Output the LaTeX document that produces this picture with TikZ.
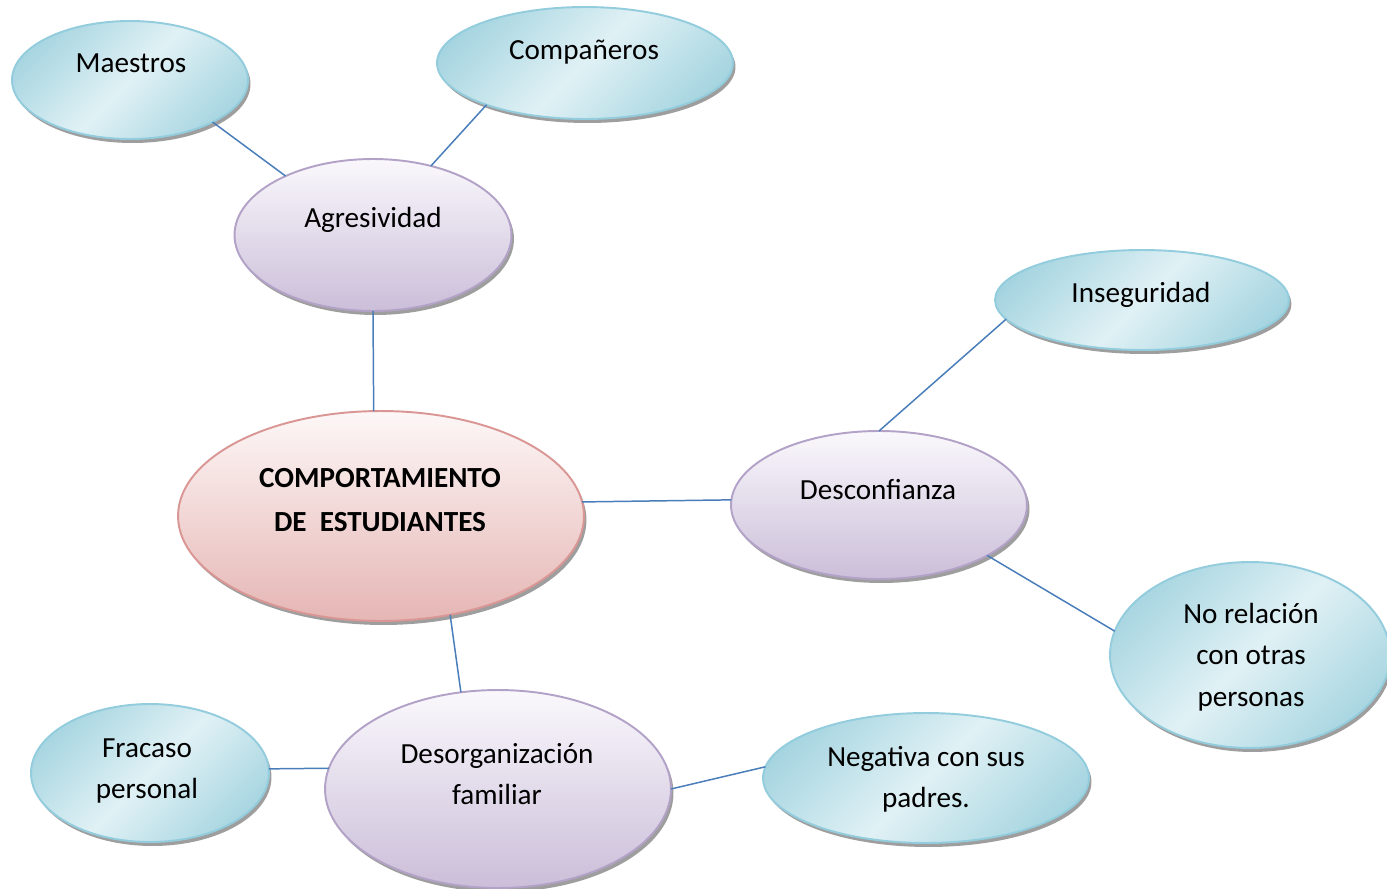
\documentclass[tikz,border=0pt]{standalone}
\usepackage{fontspec}
\setmainfont{Carlito}
\usetikzlibrary{shapes.geometric,shadows}

\definecolor{lineblue}{HTML}{4A7EBB}
\definecolor{aquarim}{HTML}{93CDDD}
\definecolor{aquadark}{HTML}{9ACFDC}
\definecolor{aqualight}{HTML}{E0F1F5}
\definecolor{lilacrim}{HTML}{B3A2C7}
\definecolor{lilactop}{HTML}{FAF8FC}
\definecolor{lilacbot}{HTML}{CBBED9}
\definecolor{roserim}{HTML}{D99694}
\definecolor{rosetop}{HTML}{FDF7F7}
\definecolor{rosebot}{HTML}{E5B6B4}
\pgfdeclareverticalshading{aquaband}{100bp}{color(0bp)=(aquadark); color(18bp)=(aquadark);
  color(50bp)=(aqualight); color(82bp)=(aquadark); color(100bp)=(aquadark)}

\begin{document}
\begin{tikzpicture}
  [x=0.02cm,y=-0.02cm,
   blob/.style={ellipse,inner sep=0pt,outer sep=0pt,line width=1.1pt,
     drop shadow={shadow xshift=0.05cm,shadow yshift=-0.08cm,fill=black!38,opacity=1}},
   aqua/.style={blob,draw=aquarim,shade,shading=aquaband,shading angle=45},
   lilac/.style={blob,draw=lilacrim,top color=lilactop,bottom color=lilacbot},
   rose/.style={blob,draw=roserim,top color=rosetop,bottom color=rosebot},
   txt/.style={align=center,inner sep=0pt,font=\fontsize{16.6}{23.5}\selectfont},
   link/.style={draw=lineblue,line width=0.85pt}]
  \clip (0,0) rectangle (1387,889);

  % ellipses
  \node[aqua,minimum width=4.72cm,minimum height=2.36cm] (maestros) at (130,80) {};
  \node[aqua,minimum width=5.92cm,minimum height=2.24cm] (companeros) at (585,63) {};
  \node[lilac,minimum width=5.54cm,minimum height=3.04cm] (agresividad) at (373,235) {};
  \node[rose,minimum width=8.12cm,minimum height=4.2cm] (comport) at (381,516) {};
  \node[aqua,minimum width=5.88cm,minimum height=2.0cm] (inseguridad) at (1142,300) {};
  \node[lilac,minimum width=5.92cm,minimum height=2.96cm] (desconfianza) at (879,505) {};
  \node[aqua,minimum width=5.6cm,minimum height=3.72cm] (norelacion) at (1250,655) {};
  \node[lilac,minimum width=6.92cm,minimum height=3.96cm] (desorg) at (498,789) {};
  \node[aqua,minimum width=4.76cm,minimum height=2.76cm] (fracaso) at (150,773) {};
  \node[aqua,minimum width=6.52cm,minimum height=2.6cm] (negativa) at (926,778) {};

  % texts
  \node[txt] (maestros-t) at (131,63) {Maestros};
  \node[txt] (companeros-t) at (584,52) {Compañeros};
  \node[txt] (agresividad-t) at (373,220) {Agresividad};
  \node[txt,font=\fontsize{16.6}{25}\selectfont\bfseries] (comport-t) at (380,500)
    {COMPORTAMIENTO\\DE~~ESTUDIANTES};
  \node[txt] (inseguridad-t) at (1141,295) {Inseguridad};
  \node[txt] (desconfianza-t) at (878,490) {Desconfianza};
  \node[txt] (norelacion-t) at (1251,657) {No relación\\con otras\\personas};
  \node[txt] (desorg-t) at (497,774) {Desorganización\\familiar};
  \node[txt] (fracaso-t) at (147,771) {Fracaso\\personal};
  \node[txt] (negativa-t) at (926,779) {Negativa con sus\\padres.};

  % connectors
  \foreach \from/\to in {maestros.-27/agresividad.146,companeros.-157/agresividad.50,
      agresividad.south/comport.94,comport.4/desconfianza.178.5,
      desconfianza.north/inseguridad.-172,desconfianza.-25/norelacion.170,
      comport.-55/desorg.111,fracaso.2/desorg.173,desorg.east/negativa.176}
    \draw[link] (\from) -- (\to);
\end{tikzpicture}
\end{document}
